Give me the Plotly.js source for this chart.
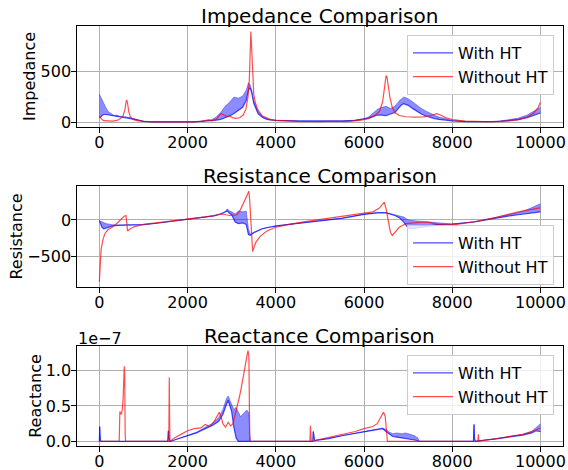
<!DOCTYPE html>
<html><head><meta charset="utf-8">
<script src="https://cdn.plot.ly/plotly-3.0.1.min.js"></script>
<style>html,body{margin:0;padding:0;background:#fff}#chart{width:568px;height:470px}</style>
</head><body><div id="chart"></div>
<script>
// ---------- Impedance ----------
const impWithX = [0,30,60,100,150,200,250,300,350,400,
  450,500,600,700,800,900,1000,1200,1500,1800,
  2100,2300,2450,2550,2650,2750,2850,2950,3050,3150,
  3250,3330,3380,3420,3460,3500,3550,3600,3700,3800,
  3900,4000,4500,5000,5500,5800,6000,6100,6200,6300,
  6400,6500,6600,6700,6800,6850,6900,6950,7000,7100,
  7200,7300,7400,7500,7600,7700,7800,8000,8300,8600,
  8900,9100,9300,9500,9700,9850,10000];
const impWithHi = [280,250,220,185,145,110,90,80,70,75,
  65,60,57,50,38,25,15,10,8,8,
  10,15,22,30,55,100,160,200,250,240,
  260,320,390,370,310,220,160,110,60,40,
  30,25,18,15,18,25,38,55,90,130,
  150,160,140,160,215,235,250,245,235,205,
  170,140,115,90,72,55,42,22,12,10,
  12,18,28,45,75,115,150];
const impWithLo = [50,55,70,80,80,75,70,65,60,62,
  58,55,52,45,33,22,13,8,6,6,
  8,12,15,18,25,33,48,65,90,120,
  150,220,320,340,280,190,130,85,50,33,
  26,22,15,12,15,22,35,45,60,75,
  75,70,85,100,150,175,185,180,170,140,
  110,85,65,50,40,32,26,18,10,8,
  10,14,20,30,50,75,95];
const impWithoutX = [0,50,100,200,300,400,480,540,580,605,
  620,640,665,700,750,850,1000,1300,1700,2100,
  2300,2420,2480,2550,2650,2720,2760,2800,2880,2950,
  3020,3100,3180,3260,3320,3370,3400,3420,3435,3450,
  3470,3500,3540,3600,3700,3850,4000,4500,5000,5300,
  5600,5900,6100,6250,6350,6420,6470,6500,6520,6550,
  6590,6640,6700,6800,6950,7150,7350,7500,7600,7650,
  7720,7850,8000,8300,8700,9000,9300,9500,9700,9850,
  9950,10000];
const impWithout = [65,35,20,15,15,22,40,70,130,200,
  222,190,110,60,35,20,12,8,6,7,
  12,25,28,18,35,70,90,80,62,65,
  50,42,48,75,130,250,420,700,890,760,
  480,280,190,120,65,35,22,12,10,14,
  10,22,40,70,110,200,360,460,450,360,
  240,150,100,70,58,55,57,68,85,88,
  78,50,30,16,11,10,18,30,55,95,
  150,200];

// ---------- Resistance ----------
const resWithX = [0,30,60,100,150,200,300,500,700,1000,
  1300,1600,2000,2300,2600,2750,2850,2900,2950,3000,
  3080,3150,3250,3330,3380,3420,3500,3600,3700,3850,
  4000,4500,5000,5500,6000,6300,6500,6700,6800,6900,
  7000,7100,7200,7350,7500,7650,7800,8000,8500,9000,
  9300,9500,9700,9850,10000];
const resWithHi = [-10,-20,-30,-40,-50,-55,-65,-70,-70,-65,
  -45,-20,10,30,55,85,110,150,120,110,
  80,120,110,120,-120,-190,-165,-140,-115,-95,
  -80,-45,-10,25,80,100,100,70,55,40,
  0,-10,-15,-20,-25,-30,-45,-55,-25,35,
  70,100,140,175,220];
const resWithLo = [-10,-60,-100,-120,-110,-95,-80,-72,-70,-65,
  -45,-20,10,30,55,80,100,120,90,70,
  -30,-50,-40,-60,-200,-210,-175,-145,-120,-100,
  -85,-47,-12,22,75,95,95,60,30,-30,
  -110,-120,-110,-100,-80,-65,-60,-58,-28,30,
  55,70,85,100,110];
const resWithoutX = [0,15,40,80,130,200,300,400,500,560,
  605,620,640,700,800,1000,1300,1600,2000,2400,
  2700,2800,2870,2950,3050,3120,3200,3280,3340,3390,
  3410,3430,3450,3475,3500,3550,3650,3800,4000,4300,
  4700,5200,5700,6000,6200,6350,6430,6460,6500,6550,
  6600,6640,6700,6800,6950,7100,7300,7450,7550,7700,
  7900,8100,8500,9000,9500,9800,10000];
const resWithout = [-840,-600,-400,-270,-180,-130,-95,-45,10,50,
  58,-80,-150,-120,-90,-60,-40,-20,10,40,
  70,80,70,60,65,70,140,240,330,390,
  250,0,-250,-430,-380,-300,-220,-150,-100,-60,
  -20,20,60,85,110,160,230,240,150,-30,
  -170,-210,-170,-100,-50,-38,-32,-30,-40,-65,
  -68,-60,-25,35,110,145,165];

// ---------- Reactance (values in units of 1e-7) ----------
const reaWithX = [0,8,15,25,40,1550,1565,1575,1585,1600,
  1700,1850,2000,2200,2400,2550,2700,2800,2880,2920,
  2960,3000,3050,3100,3150,3200,3250,3300,3350,3390,
  3410,3430,4820,4840,4850,4860,4880,4950,5200,5500,
  5800,6000,6200,6350,6420,6500,6580,6650,6750,6850,
  6950,7050,7150,7220,7260,8480,8495,8505,8520,8600,
  8800,9000,9200,9400,9600,9800,9900,10000];
const reaWithHi = [0,0.21,0.1,0.02,0,0,0.15,0.05,0,0,
  0.02,0.05,0.08,0.13,0.2,0.25,0.33,0.45,0.6,0.64,
  0.58,0.52,0.45,0.48,0.42,0.35,0.38,0.42,0.44,0.4,
  0.1,0,0,0,0.14,0.05,0.01,0.02,0.05,0.09,
  0.12,0.145,0.165,0.18,0.19,0.17,0.13,0.11,0.12,0.11,
  0.12,0.1,0.08,0.05,0,0,0.24,0.05,0,0.01,
  0.02,0.04,0.06,0.08,0.1,0.14,0.2,0.25];
const reaWithLo = [0,0.21,0.1,0.02,0,0,0.15,0.05,0,0,
  0.02,0.05,0.08,0.12,0.18,0.22,0.28,0.38,0.52,0.58,
  0.5,0.42,0.2,0.05,0,0,0,0,0,0,
  0,0,0,0,0.14,0.05,0.01,0.02,0.04,0.08,
  0.11,0.135,0.155,0.17,0.18,0.14,0.1,0.07,0.06,0.05,
  0.05,0.04,0.02,0.01,0,0,0.24,0.05,0,0.01,
  0.02,0.035,0.055,0.07,0.09,0.12,0.15,0.14];
const reaWithoutX = [0,450,465,480,500,520,540,555,565,575,
  585,595,1575,1585,1592,1600,1700,1850,2000,2150,
  2300,2400,2500,2600,2680,2720,2760,2800,2860,2920,
  2980,3030,3080,3130,3180,3230,3280,3330,3370,3390,
  3410,4775,4785,4795,4805,4850,5000,5200,5500,5800,
  6000,6200,6300,6380,6440,6480,6510,6530,8580,8592,
  8604,8620,8800,9000,9200,9400,9600,9800,10000];
const reaWithout = [0,0,0.42,0.4,0.38,0.45,0.62,0.9,1.06,0.95,
  0.1,0,0,0.9,0.4,0,0.05,0.1,0.15,0.18,
  0.19,0.24,0.21,0.28,0.36,0.41,0.35,0.25,0.2,0.27,
  0.22,0.25,0.38,0.5,0.64,0.8,0.95,1.15,1.28,1.2,
  0,0,0.22,0.05,0,0.01,0.03,0.06,0.1,0.14,
  0.18,0.21,0.25,0.33,0.41,0.36,0.15,0,0,0.1,
  0,0.005,0.02,0.04,0.06,0.08,0.1,0.14,0.19];

const xTicks = [0,2000,4000,6000,8000,10000];
const xTickLabels = ['0','2000','4000','6000','8000','10000'];
const panelTitles = ['Impedance Comparison','Resistance Comparison','Reactance Comparison'];
const yTitles = ['Impedance','Resistance','Reactance'];
const seriesNames = ['With HT','Without HT'];

const BLUE = 'rgba(0,0,255,0.7)';
const BLUE_EDGE = 'rgba(0,0,255,0.35)';
const BLUE_FILL = 'rgba(0,0,255,0.45)';
const RED = 'rgba(255,0,0,0.7)';
const FONT = 'DejaVu Sans';

function panel(n, wx, lo, hi, rx, ry) {
  const ax = n === 1 ? '' : String(n);
  const leg = n === 1 ? 'legend' : 'legend' + n;
  return [
    {x: wx, y: lo, xaxis: 'x' + ax, yaxis: 'y' + ax, type: 'scatter', mode: 'lines',
     name: seriesNames[0], legend: leg, legendgroup: 'a' + n,
     line: {color: BLUE, width: 1.2}},
    {x: wx, y: hi, xaxis: 'x' + ax, yaxis: 'y' + ax, type: 'scatter', mode: 'lines',
     name: seriesNames[0], showlegend: false, legendgroup: 'a' + n, fill: 'tonexty',
     fillcolor: BLUE_FILL, line: {color: BLUE_EDGE, width: 1}},
    {x: rx, y: ry, xaxis: 'x' + ax, yaxis: 'y' + ax, type: 'scatter', mode: 'lines',
     name: seriesNames[1], legend: leg, legendgroup: 'b' + n,
     line: {color: RED, width: 1.2}}
  ];
}

const data = [].concat(
  panel(1, impWithX, impWithLo, impWithHi, impWithoutX, impWithout),
  panel(2, resWithX, resWithLo, resWithHi, resWithoutX, resWithout),
  panel(3, reaWithX, reaWithLo, reaWithHi, reaWithoutX, reaWithout)
);

const W = 568, H = 470;
const px = v => v / W;
const py = v => 1 - v / H;
const boxes = [[26,127],[186,287],[346,446]];
const yRanges = [[-42,945],[-910,460],[-0.064,1.344]];
const yTickVals = [[0,500],[-500,0],[0,0.5,1.0]];
const legendTops = [35,225,355];

const tickFont = {family: FONT, size: 16, color: '#000'};
const layout = {
  width: W, height: H,
  margin: {l: 0, r: 0, t: 0, b: 0},
  paper_bgcolor: '#fff', plot_bgcolor: '#fff',
  font: {family: FONT, size: 16, color: '#000'},
  annotations: [],
  showlegend: true
};
const xDom = [px(77.3), px(562.5)];
for (let i = 0; i < 3; i++) {
  const s = i === 0 ? '' : String(i + 1);
  const common = {
    showgrid: true, gridcolor: '#b0b0b0', gridwidth: 1,
    showline: true, mirror: true, linecolor: '#000', linewidth: 1,
    ticks: 'outside', ticklen: 5, tickwidth: 1, tickcolor: '#000',
    tickfont: tickFont, zeroline: false, automargin: false, fixedrange: true
  };
  layout['xaxis' + s] = Object.assign({}, common, {
    domain: xDom, range: [-500, 10500], tickvals: xTicks, ticktext: xTickLabels,
    anchor: 'y' + s, ticklabelstandoff: -4
  });
  layout['yaxis' + s] = Object.assign({}, common, {
    domain: [py(boxes[i][1]), py(boxes[i][0])], range: yRanges[i],
    tickvals: yTickVals[i], tickformat: i === 2 ? '.1f' : '',
    anchor: 'x' + s, ticklabelstandoff: -3,
    title: {text: yTitles[i], font: {family: FONT, size: 16, color: '#000'}, standoff: 0}
  });
  layout.annotations.push({
    text: panelTitles[i], xref: 'paper', yref: 'paper',
    x: (xDom[0] + xDom[1]) / 2, y: py(boxes[i][0] - 10), xanchor: 'center', yanchor: 'middle',
    showarrow: false, font: {family: FONT, size: 20, color: '#000'}
  });
  const lg = {
    x: px(554), y: py(legendTops[i]), xanchor: 'right', yanchor: 'top',
    bgcolor: 'rgba(255,255,255,0.8)', bordercolor: '#cccccc', borderwidth: 1,
    font: {family: FONT, size: 16, color: '#000'}, tracegroupgap: 3,
    traceorder: 'normal', itemwidth: 40
  };
  layout[i === 0 ? 'legend' : 'legend' + (i + 1)] = lg;
}
layout.annotations.push({
  text: '1e\u22127', xref: 'paper', yref: 'paper', x: px(76), y: py(338),
  xanchor: 'left', yanchor: 'middle', showarrow: false,
  font: {family: FONT, size: 16, color: '#000'}
});

Plotly.newPlot('chart', data, layout, {displayModeBar: false, staticPlot: true});
</script></body></html>
